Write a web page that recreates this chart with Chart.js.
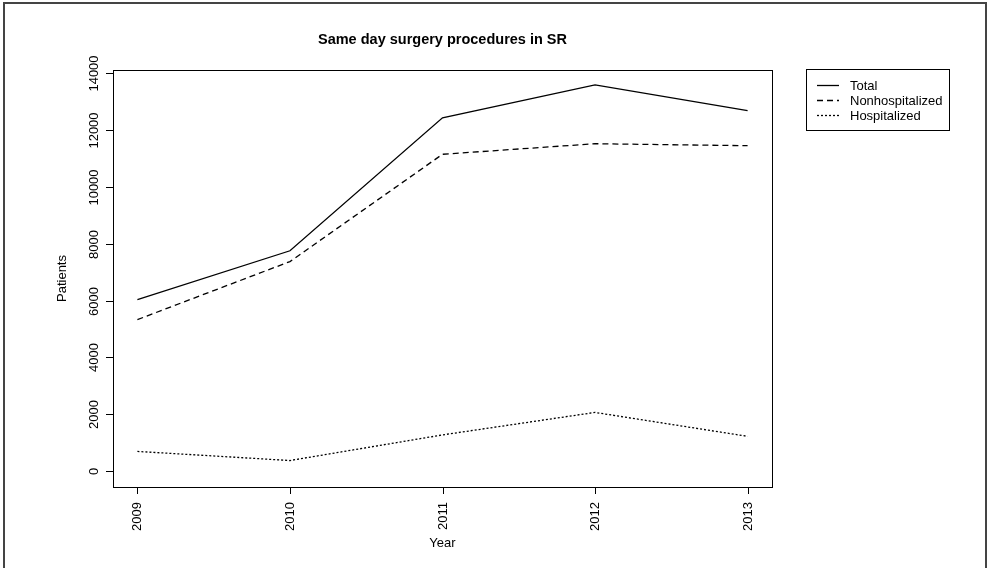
<!DOCTYPE html>
<html>
<head>
<meta charset="utf-8">
<script src="https://cdn.jsdelivr.net/npm/chart.js@4/dist/chart.umd.min.js"></script>
<style>
  html, body { margin: 0; padding: 0; background: #fff; }
  canvas { display: block; }
</style>
</head>
<body>
<canvas id="c" width="989" height="568"></canvas>
<script>
// Same day surgery procedures, by year
const years = [2009, 2010, 2011, 2012, 2013];
const total = [6030, 7750, 12420, 13580, 12670];
const nonhospitalized = [5330, 7370, 11140, 11510, 11440];
const hospitalized = [700, 380, 1280, 2070, 1230];
const yTicks = [0, 2000, 4000, 6000, 8000, 10000, 12000, 14000];

const FONT = '"Liberation Sans", Arial, sans-serif';

function pts(vals) {
  return years.map((yr, i) => ({ x: yr, y: vals[i] }));
}

// Base-graphics style frame, axes, labels and legend
const basePlot = {
  id: 'basePlot',
  afterDraw(chart) {
    const { ctx, chartArea: a, scales } = chart;
    const sx = scales.x, sy = scales.y;
    ctx.save();

    // outer figure border
    ctx.strokeStyle = '#444';
    ctx.lineWidth = 2;
    ctx.strokeRect(4, 3, 982, 620);

    // plot box
    ctx.strokeStyle = '#000';
    ctx.lineWidth = 1;
    ctx.strokeRect(Math.round(a.left) + 0.5, Math.round(a.top) + 0.5,
                   Math.round(a.right - a.left), Math.round(a.bottom - a.top));

    ctx.fillStyle = '#000';
    ctx.font = '13px ' + FONT;

    // y axis ticks and rotated labels
    yTicks.forEach(t => {
      const y = Math.round(sy.getPixelForValue(t)) + 0.5;
      ctx.beginPath();
      ctx.moveTo(a.left - 7, y);
      ctx.lineTo(a.left, y);
      ctx.stroke();
      ctx.save();
      ctx.translate(a.left - 19, y);
      ctx.rotate(-Math.PI / 2);
      ctx.textAlign = 'center';
      ctx.textBaseline = 'middle';
      ctx.fillText(String(t), 0, 0);
      ctx.restore();
    });

    // x axis ticks and rotated labels
    years.forEach(yr => {
      const x = Math.round(sx.getPixelForValue(yr)) + 0.5;
      ctx.beginPath();
      ctx.moveTo(x, a.bottom);
      ctx.lineTo(x, a.bottom + 7);
      ctx.stroke();
      ctx.save();
      ctx.translate(x, a.bottom + 15);
      ctx.rotate(-Math.PI / 2);
      ctx.textAlign = 'right';
      ctx.textBaseline = 'middle';
      ctx.fillText(String(yr), 0, 0);
      ctx.restore();
    });

    const cx = (a.left + a.right) / 2;
    // axis titles
    ctx.textAlign = 'center';
    ctx.textBaseline = 'middle';
    ctx.fillText('Year', cx, a.bottom + 56);
    ctx.save();
    ctx.translate(a.left - 51, (a.top + a.bottom) / 2);
    ctx.rotate(-Math.PI / 2);
    ctx.fillText('Patients', 0, 0);
    ctx.restore();

    // main title
    ctx.font = 'bold 14.5px ' + FONT;
    ctx.fillText('Same day surgery procedures in SR', cx, 40);

    // legend
    const lx = 806, ly = 69, lw = 143, lh = 61;
    ctx.lineWidth = 1;
    ctx.strokeStyle = '#000';
    ctx.strokeRect(lx + 0.5, ly + 0.5, lw, lh);
    ctx.font = '13px ' + FONT;
    ctx.textAlign = 'left';
    chart.data.datasets.forEach((ds, i) => {
      const y = ly + 16 + i * 15;
      ctx.save();
      ctx.setLineDash(ds.borderDash || []);
      ctx.lineWidth = ds.borderWidth;
      ctx.beginPath();
      ctx.moveTo(lx + 11, y + 0.5);
      ctx.lineTo(lx + 33, y + 0.5);
      ctx.stroke();
      ctx.restore();
      ctx.fillText(ds.label, lx + 44, y + 1);
    });

    ctx.restore();
  }
};

new Chart(document.getElementById('c'), {
  type: 'line',
  data: {
    datasets: [
      { label: 'Total', data: pts(total), borderColor: '#000', borderWidth: 1.3, borderDash: [] },
      { label: 'Nonhospitalized', data: pts(nonhospitalized), borderColor: '#000', borderWidth: 1.3, borderDash: [6, 4] },
      { label: 'Hospitalized', data: pts(hospitalized), borderColor: '#000', borderWidth: 1.3, borderDash: [2, 2] }
    ]
  },
  options: {
    responsive: false,
    animation: false,
    devicePixelRatio: 1,
    layout: { padding: { left: 113, top: 70, right: 217, bottom: 81 } },
    elements: { point: { radius: 0 }, line: { tension: 0, fill: false } },
    plugins: { legend: { display: false }, tooltip: { enabled: false }, title: { display: false } },
    scales: {
      x: { type: 'linear', min: 2008.84, max: 2013.16, display: false },
      y: { type: 'linear', min: -550, max: 14100, display: false }
    }
  },
  plugins: [basePlot]
});
</script>
</body>
</html>
